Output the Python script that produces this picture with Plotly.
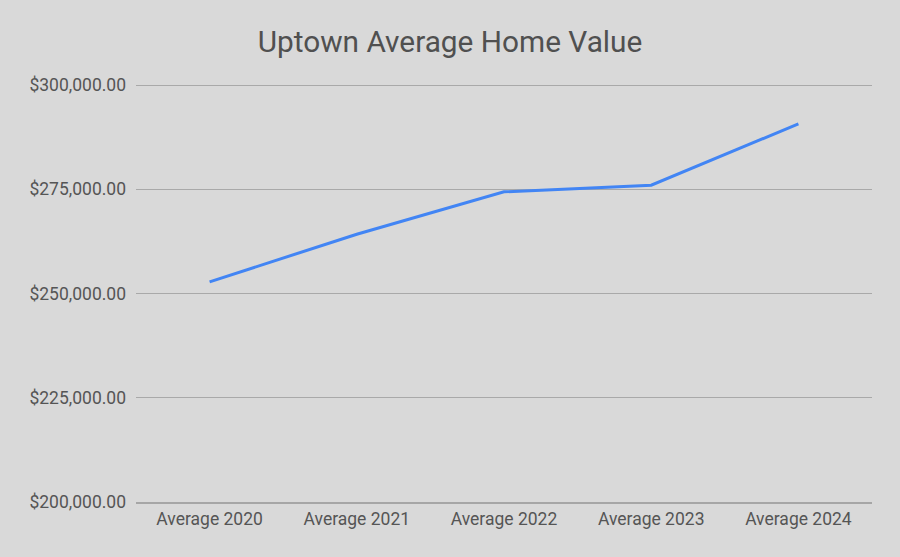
import plotly.graph_objects as go

categories = ["Average 2020", "Average 2021", "Average 2022", "Average 2023", "Average 2024"]
values = [252780, 264200, 274380, 275960, 290680]
y_ticks = [200000, 225000, 250000, 275000, 300000]
y_tick_labels = ["$200,000.00", "$225,000.00", "$250,000.00", "$275,000.00", "$300,000.00"]

BG = "#d9d9d9"
TXT = "#555555"

fig = go.Figure()
fig.add_trace(go.Scatter(
    x=categories, y=values, mode="lines",
    line=dict(color="#4285F4", width=3),
    showlegend=False, hoverinfo="skip",
))

fig.update_layout(
    width=900, height=557,
    paper_bgcolor=BG, plot_bgcolor=BG,
    margin=dict(l=136, r=28, t=84, b=55),
    font=dict(family="Roboto", color=TXT, size=17.5),
    title=dict(text="Uptown Average Home Value", x=0.5, xanchor="center",
               y=1 - 42 / 557, yanchor="middle", yref="container",
               font=dict(family="Roboto", size=29.8, color="#505050")),
)
fig.update_xaxes(
    type="category", range=[-0.5, 4.5], showgrid=False, zeroline=False,
    showline=True, linecolor="#a6a6a6", linewidth=2,
    ticks="", ticklabelstandoff=0,
    tickfont=dict(size=17.5, color=TXT),
)
fig.update_yaxes(
    range=[199950, 300250], tickvals=y_ticks, ticktext=y_tick_labels,
    showgrid=True, gridcolor="#a9a9a9", gridwidth=1, zeroline=False,
    showline=False, ticks="", ticklabelstandoff=9,
    tickfont=dict(size=17.5, color=TXT),
)

fig.write_html("out.html", config={"displayModeBar": False},
               post_script="document.body.style.margin='0';")
